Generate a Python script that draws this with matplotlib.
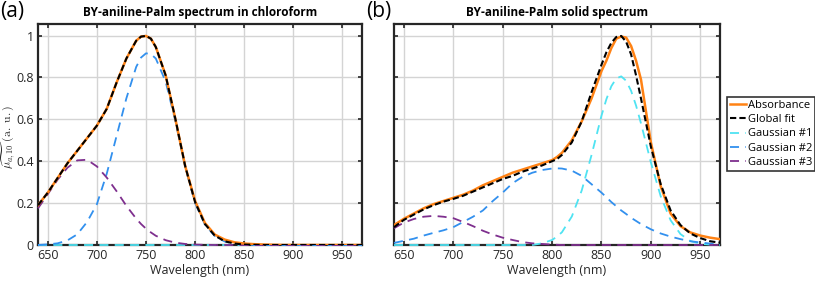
import numpy as np
import matplotlib
matplotlib.use("Agg")
import matplotlib.pyplot as plt

plt.rcParams['font.family'] = ['Open Sans', 'DejaVu Sans']
plt.rcParams['mathtext.fontset'] = 'cm'

# ---------------- panel (a): solution spectrum ----------------
wl_a = [640, 650, 660, 670, 680, 690, 700, 710, 720, 730, 740, 745, 750, 755,
        760, 770, 780, 790, 800, 810, 820, 830, 840, 850, 860, 870, 880, 890,
        900, 910, 920, 930, 940, 950, 960, 970]
abs_a = [0.19, 0.25, 0.32, 0.39, 0.45, 0.51, 0.57, 0.65, 0.775, 0.89, 0.975, 0.995, 0.998, 0.985,
         0.945, 0.81, 0.60, 0.375, 0.21, 0.105, 0.05, 0.026, 0.013, 0.007, 0.004, 0.002, 0.001, 0.0,
         0.0, 0.0, 0.0, 0.0, 0.0, 0.0, 0.0, 0.0]
fit_a = [0.19, 0.25, 0.32, 0.39, 0.45, 0.51, 0.57, 0.65, 0.775, 0.89, 0.975, 0.995, 0.998, 0.985,
         0.945, 0.81, 0.60, 0.375, 0.205, 0.10, 0.045, 0.018, 0.007, 0.002, 0.001, 0.0, 0.0, 0.0,
         0.0, 0.0, 0.0, 0.0, 0.0, 0.0, 0.0, 0.0]
g1_a = [0.0] * len(wl_a)
g2_a = [0.0, 0.003, 0.008, 0.022, 0.051, 0.11, 0.195, 0.34, 0.52, 0.70, 0.85, 0.895, 0.915, 0.912,
        0.89, 0.78, 0.59, 0.37, 0.20, 0.098, 0.043, 0.017, 0.006, 0.002, 0.0, 0.0, 0.0, 0.0,
        0.0, 0.0, 0.0, 0.0, 0.0, 0.0, 0.0, 0.0]
g3_a = [0.175, 0.243, 0.312, 0.369, 0.404, 0.407, 0.375, 0.322, 0.257, 0.187, 0.126, 0.10, 0.078, 0.06,
        0.044, 0.023, 0.011, 0.005, 0.002, 0.001, 0.0, 0.0, 0.0, 0.0, 0.0, 0.0, 0.0, 0.0,
        0.0, 0.0, 0.0, 0.0, 0.0, 0.0, 0.0, 0.0]

# ---------------- panel (b): solid spectrum ----------------
wl_b = [640, 650, 660, 670, 680, 690, 700, 710, 720, 730, 740, 750, 760, 770, 780, 790,
        800, 805, 810, 820, 830, 840, 850, 855, 860, 865, 870, 875, 880, 885, 890, 900,
        910, 920, 930, 940, 950, 960, 970]
abs_b = [0.095, 0.125, 0.15, 0.175, 0.195, 0.21, 0.225, 0.24, 0.26, 0.285, 0.305, 0.325, 0.345, 0.36, 0.375, 0.39,
         0.405, 0.42, 0.44, 0.50, 0.59, 0.70, 0.83, 0.88, 0.94, 0.985, 0.995, 0.99, 0.95, 0.88, 0.79, 0.49,
         0.28, 0.15, 0.09, 0.06, 0.045, 0.035, 0.028]
fit_b = [0.085, 0.12, 0.145, 0.17, 0.19, 0.207, 0.22, 0.235, 0.255, 0.275, 0.295, 0.315, 0.33, 0.35, 0.365, 0.38,
         0.40, 0.41, 0.43, 0.49, 0.59, 0.73, 0.86, 0.92, 0.965, 0.993, 0.998, 0.97, 0.91, 0.81, 0.70, 0.47,
         0.29, 0.165, 0.095, 0.055, 0.033, 0.018, 0.011]
g1_b = [0.0, 0.0, 0.0, 0.0, 0.0, 0.0, 0.0, 0.0, 0.0, 0.0, 0.0, 0.0, 0.0, 0.0, 0.0, 0.008,
        0.024, 0.04, 0.061, 0.136, 0.26, 0.43, 0.617, 0.696, 0.758, 0.795, 0.805, 0.784, 0.736, 0.666, 0.581, 0.395,
        0.232, 0.118, 0.052, 0.019, 0.006, 0.002, 0.0]
g2_b = [0.01, 0.02, 0.03, 0.045, 0.058, 0.07, 0.085, 0.11, 0.135, 0.165, 0.21, 0.25, 0.295, 0.325, 0.345, 0.358,
        0.365, 0.366, 0.365, 0.355, 0.33, 0.29, 0.25, 0.228, 0.205, 0.185, 0.165, 0.148, 0.13, 0.115, 0.10, 0.075,
        0.055, 0.04, 0.028, 0.018, 0.012, 0.007, 0.004]
g3_b = [0.08, 0.107, 0.124, 0.135, 0.139, 0.135, 0.128, 0.11, 0.09, 0.068, 0.05, 0.035, 0.024, 0.014, 0.008, 0.005,
        0.002, 0.001, 0.0, 0.0, 0.0, 0.0, 0.0, 0.0, 0.0, 0.0, 0.0, 0.0, 0.0, 0.0, 0.0, 0.0,
        0.0, 0.0, 0.0, 0.0, 0.0, 0.0, 0.0]

xticks = [650, 700, 750, 800, 850, 900, 950]
yticks = [0, 0.2, 0.4, 0.6, 0.8, 1]
ytick_labels = ['0', '0.2', '0.4', '0.6', '0.8', '1']

c_abs = '#FF8214'
c_g1 = '#4FE3F2'
c_g2 = '#3290EE'
c_g3 = '#7E2F8E'
c_txt = '#262626'

fig = plt.figure(figsize=(8.15, 2.82), dpi=100)
ax_a = fig.add_axes([38 / 815, 37 / 282, 324 / 815, 221 / 282])
ax_b = fig.add_axes([394 / 815, 37 / 282, 326 / 815, 221 / 282])


def draw(ax, wl, ab, fit, g1, g2, g3):
    ax.plot(wl, g1, color=c_g1, lw=1.3, dashes=(5, 3.5), label='Gaussian #1', zorder=3, clip_on=False)
    ax.plot(wl, g2, color=c_g2, lw=1.3, dashes=(5, 3.5), label='Gaussian #2', zorder=3, clip_on=False)
    ax.plot(wl, g3, color=c_g3, lw=1.3, dashes=(5, 3.5), label='Gaussian #3', zorder=3, clip_on=False)
    ax.plot(wl, ab, color=c_abs, lw=1.8, label='Absorbance', zorder=4)
    ax.plot(wl, fit, color='black', lw=1.5, dashes=(3, 1.5), label='Global fit', zorder=5)
    ax.set_xlim(640, 970)
    ax.set_ylim(0, 1.055)
    ax.set_xticks(xticks)
    ax.set_yticks(yticks)
    ax.grid(True, color='#d4d4d4', lw=1.0)
    ax.set_axisbelow(True)
    ax.tick_params(direction='in', top=True, right=True, length=3, width=1.2,
                   labelsize=9, pad=3, colors=c_txt)
    for s in ax.spines.values():
        s.set_linewidth(1.6)
        s.set_color(c_txt)
    ax.set_xlabel('Wavelength (nm)', fontsize=9, color=c_txt, labelpad=1)


draw(ax_a, wl_a, abs_a, fit_a, g1_a, g2_a, g3_a)
draw(ax_b, wl_b, abs_b, fit_b, g1_b, g2_b, g3_b)

ax_a.set_yticklabels(ytick_labels)
ax_b.set_yticklabels([])
fig.text(8 / 815, 1 - 137 / 282, r'$\widetilde{\mu_{a,10}}\ \mathrm{(a.\ u.)}$', fontsize=8.5,
         rotation=90, ha='center', va='center', color=c_txt)

ax_a.set_title('BY-aniline-Palm spectrum in chloroform', fontsize=8.5, fontweight='bold', pad=6)
ax_b.set_title('BY-aniline-Palm solid spectrum', fontsize=8.5, fontweight='bold', pad=6)

fig.text(0.0, 0.995, '(a)', fontsize=15, va='top', ha='left')
fig.text(366 / 815, 0.995, '(b)', fontsize=15, va='top', ha='left')

handles, labels = ax_b.get_legend_handles_labels()
order = [3, 4, 0, 1, 2]
leg = fig.legend([handles[i] for i in order], [labels[i] for i in order],
                 loc='upper left', bbox_to_anchor=(727 / 815, 1 - 97 / 282),
                 fontsize=8, frameon=True, fancybox=False, edgecolor='black',
                 handlelength=1.5, handletextpad=0.1, borderpad=0.25, labelspacing=0.3,
                 borderaxespad=0)
leg.get_frame().set_linewidth(1.2)

fig.savefig('out.png', dpi=100)
